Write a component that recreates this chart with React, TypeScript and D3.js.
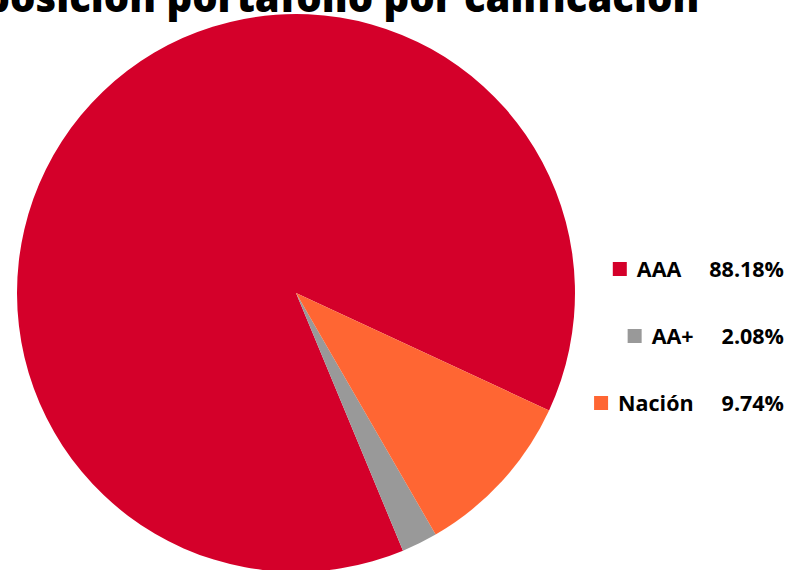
import React, { useEffect, useRef } from "react";
import * as d3 from "d3";

const categories = ["AAA", "AA+", "Nación"];
const values = [88.18, 2.08, 9.74];
const valueLabels = ["88.18%", "2.08%", "9.74%"];
const colors = ["#D4002A", "#999999", "#FF6633"];
const title = "Composición portafolio por calificación";

const W = 791;
const H = 570;

export default function App() {
  const ref = useRef<SVGSVGElement | null>(null);

  useEffect(() => {
    document.body.style.margin = "0";
    const svg = d3.select(ref.current);
    svg.selectAll("*").remove();

    const cx = 296, cy = 293, r = 279;
    const start = (114.9 * Math.PI) / 180;
    const pie = d3.pie<number>().sort(null).value((d) => d).startAngle(start).endAngle(start - 2 * Math.PI);
    const arc = d3.arc<d3.PieArcDatum<number>>().innerRadius(0).outerRadius(r);

    const g = svg.append("g").attr("transform", `translate(${cx},${cy})`);
    g.selectAll("path")
      .data(pie(values))
      .join("path")
      .attr("d", arc)
      .attr("fill", (_, i) => colors[i]);

    svg.append("text")
      .attr("x", cx)
      .attr("y", 12)
      .attr("text-anchor", "middle")
      .attr("font-family", "'Open Sans', sans-serif")
      .attr("font-weight", 800)
      .attr("font-size", 40)
      .attr("fill", "#000")
      .text(title);

    const legendRight = 784;
    const rowY = d3.scalePoint<string>().domain(categories).range([277, 411]);
    const font = "'Open Sans', sans-serif";
    categories.forEach((c, i) => {
      const y = rowY(c)!;
      const v = svg.append("text")
        .attr("x", legendRight)
        .attr("y", y)
        .attr("text-anchor", "end")
        .attr("font-family", font)
        .attr("font-weight", 700)
        .attr("font-size", 21.5)
        .attr("fill", "#000")
        .text(valueLabels[i]);
      const vw = (v.node() as SVGTextElement).getComputedTextLength();
      const labelEnd = legendRight - vw - 28;
      const l = svg.append("text")
        .attr("x", labelEnd)
        .attr("y", y)
        .attr("text-anchor", "end")
        .attr("font-family", font)
        .attr("font-weight", 700)
        .attr("font-size", 21.5)
        .attr("fill", "#000")
        .text(c);
      const lw = (l.node() as SVGTextElement).getComputedTextLength();
      svg.append("rect")
        .attr("x", labelEnd - lw - 24)
        .attr("y", y - 15)
        .attr("width", 14)
        .attr("height", 14)
        .attr("fill", colors[i]);
    });
  }, []);

  return <svg ref={ref} width={W} height={H} style={{ display: "block" }} />;
}
